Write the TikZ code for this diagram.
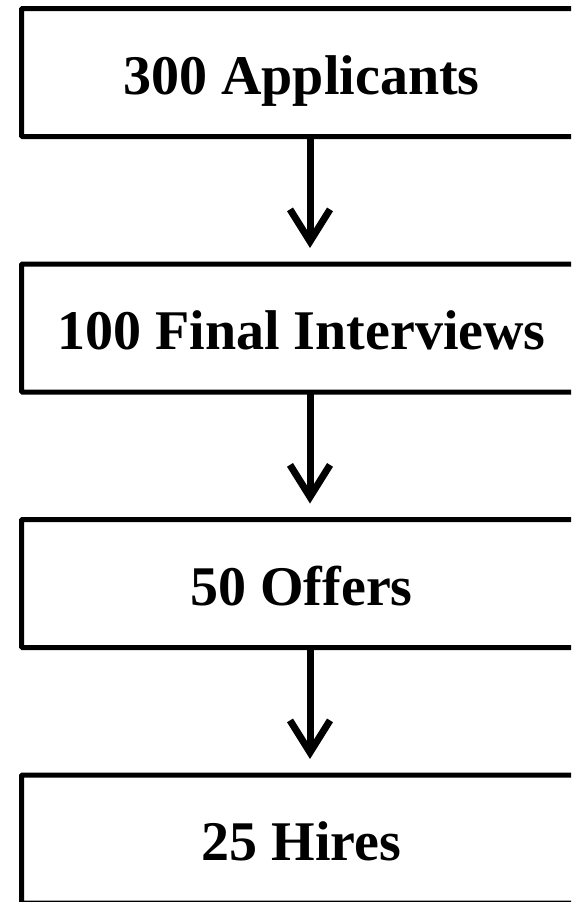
\documentclass[tikz,border=0pt]{standalone}
\usepackage{fontspec}
\setmainfont{Liberation Serif}
\usetikzlibrary{positioning,arrows.meta}

\begin{document}
\begin{tikzpicture}[x=1pt,y=-1pt,
  stage/.style={draw,line width=5pt,rounded corners=1pt,minimum width=560pt,
    minimum height=128pt,outer sep=0pt,inner sep=0pt,text height=43pt,text depth=0pt,
    font=\fontsize{56}{68}\selectfont\bfseries},
  flow/.style={line width=7pt,-{Straight Barb[length=32pt,width=40pt]},shorten >=16pt},
  node distance=127.5pt]
  \clip (0,0) rectangle (571,902);
  \node[stage] (apps) at (301.5,72.5) {300 Applicants};
  \node[stage,below=of apps] (intv) {100 Final Interviews};
  \node[stage,below=of intv] (offer) {50 Offers};
  \node[stage,below=of offer] (hire) {25 Hires};
  % arrows sit a little right of the box centres
  \foreach \a/\b in {apps/intv,intv/offer,offer/hire}
    \draw[flow] ([xshift=8.5pt]\a.south) -- ([xshift=8.5pt]\b.north);
\end{tikzpicture}
\end{document}
